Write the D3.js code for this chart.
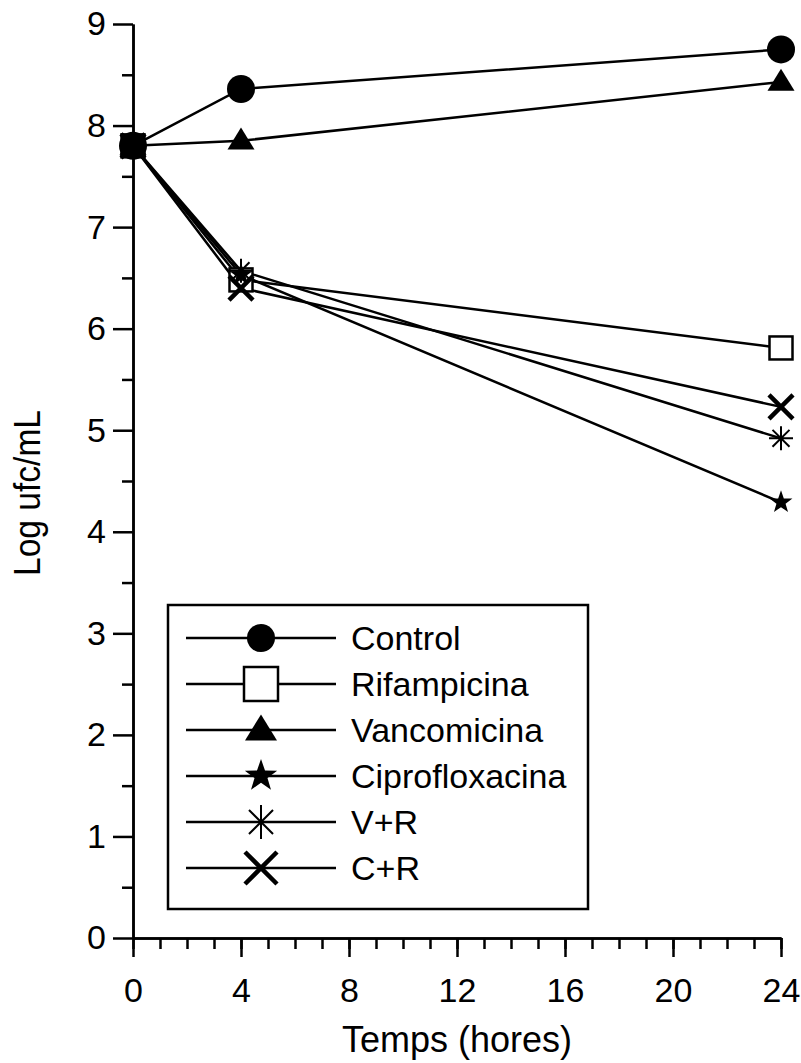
<!DOCTYPE html>
<html lang="ca">
<head>
<meta charset="UTF-8">
<title>Log ufc/mL vs temps</title>
<script src="https://d3js.org/d3.v7.min.js"></script>
<style>
  body { margin: 0; background: #fff; }
  text { font-family: "Liberation Sans", Arial, sans-serif; fill: #000; }
</style>
</head>
<body>
<div id="chart"></div>
<script>
// data
var hours = [0, 4, 24];
var seriesNames = ["Control", "Rifampicina", "Vancomicina", "Ciprofloxacina", "V+R", "C+R"];
var control        = [7.80, 8.36, 8.75];
var rifampicina    = [7.80, 6.48, 5.81];
var vancomicina    = [7.80, 7.85, 8.43];
var ciprofloxacina = [7.80, 6.53, 4.29];
var vr             = [7.80, 6.57, 4.92];
var cr             = [7.80, 6.40, 5.23];
var seriesValues = [control, rifampicina, vancomicina, ciprofloxacina, vr, cr];
var xMajorTicks = [0, 4, 8, 12, 16, 20, 24];
var yMajorTicks = [0, 1, 2, 3, 4, 5, 6, 7, 8, 9];

var W = 801, H = 1063;
var svg = d3.select("#chart").append("svg")
  .attr("width", W).attr("height", H);

var x = d3.scaleLinear().domain([0, 24]).range([133, 781]);
var y = d3.scaleLinear().domain([0, 9]).range([938, 24]);

// marker shapes, drawn centred on 0,0
function starPath(R) {
  var r = R * 0.4, pts = [];
  for (var i = 0; i < 10; i++) {
    var a = -Math.PI / 2 + i * Math.PI / 5;
    var rr = i % 2 === 0 ? R : r;
    pts.push([rr * Math.cos(a), rr * Math.sin(a)]);
  }
  return "M" + pts.map(p => p[0].toFixed(2) + "," + p[1].toFixed(2)).join("L") + "Z";
}
// sizes for plot markers and (bigger) legend markers
var plotSize = { sq: 11.5, triW: 13.5, triH: 22, star: 12, ast: 12, cross: 12 };
var legSize  = { sq: 17, triW: 16, triH: 26, star: 17, ast: 17, cross: 16 };

function drawMarker(g, i, s) {
  if (i === 0) {
    g.append("circle").attr("r", 14).attr("fill", "#000");
  } else if (i === 1) {
    g.append("rect").attr("x", -s.sq).attr("y", -s.sq).attr("width", 2 * s.sq).attr("height", 2 * s.sq)
      .attr("fill", "#fff").attr("stroke", "#000").attr("stroke-width", 2.5);
  } else if (i === 2) {
    var w = s.triW, h = s.triH;
    g.append("path").attr("d", "M0," + (-h * 0.6) + "L" + w + "," + (h * 0.4) + "L" + (-w) + "," + (h * 0.4) + "Z")
      .attr("fill", "#000");
  } else if (i === 3) {
    g.append("path").attr("d", starPath(s.star)).attr("fill", "#000");
  } else if (i === 4) {
    var r = s.ast, d = r * Math.SQRT1_2;
    g.append("path")
      .attr("d", "M0," + (-r) + "V" + r + "M" + (-r) + ",0H" + r +
        "M" + (-d) + "," + (-d) + "L" + d + "," + d + "M" + (-d) + "," + d + "L" + d + "," + (-d))
      .attr("stroke", "#000").attr("stroke-width", 2).attr("fill", "none");
  } else {
    var c = s.cross;
    g.append("path")
      .attr("d", "M" + (-c) + "," + (-c) + "L" + c + "," + c + "M" + (-c) + "," + c + "L" + c + "," + (-c))
      .attr("stroke", "#000").attr("stroke-width", 4.5).attr("fill", "none");
  }
}

// axes
var xAxisMinor = d3.axisBottom(x).tickValues(d3.range(0, 25)).tickSize(11).tickFormat("").tickSizeOuter(0);
var xAxisMajor = d3.axisBottom(x).tickValues(xMajorTicks).tickSize(19).tickPadding(21).tickSizeOuter(0);
var yAxisMinor = d3.axisLeft(y).tickValues(d3.range(0.5, 9, 1)).tickSize(11).tickFormat("").tickSizeOuter(0);
var yAxisMajor = d3.axisLeft(y).tickValues(yMajorTicks).tickSize(20).tickPadding(7).tickSizeOuter(0);

[xAxisMinor, xAxisMajor].forEach(function (ax) {
  var g = svg.append("g").attr("transform", "translate(0," + y(0) + ")").call(ax);
  g.selectAll("line, path").attr("stroke", "#000").attr("stroke-width", 2.5);
  g.selectAll("text").style("font-size", "34px").attr("font-family", null);
});
[yAxisMinor, yAxisMajor].forEach(function (ax) {
  var g = svg.append("g").attr("transform", "translate(" + x(0) + ",0)").call(ax);
  g.selectAll("line, path").attr("stroke", "#000").attr("stroke-width", 2.5);
  g.selectAll("text").style("font-size", "34px").attr("font-family", null);
});

// axis titles
svg.append("text")
  .attr("x", (x(0) + x(24)) / 2).attr("y", 1052)
  .attr("text-anchor", "middle").style("font-size", "36px")
  .text("Temps (hores)");
svg.append("text")
  .attr("transform", "translate(40,493) rotate(-90)")
  .attr("text-anchor", "middle").style("font-size", "36px")
  .attr("textLength", 166).attr("lengthAdjust", "spacingAndGlyphs")
  .text("Log ufc/mL");

// lines
var line = d3.line().x(d => x(d[0])).y(d => y(d[1]));
seriesValues.forEach(function (vals) {
  svg.append("path")
    .datum(hours.map((h, k) => [h, vals[k]]))
    .attr("d", line)
    .attr("fill", "none").attr("stroke", "#000").attr("stroke-width", 2.5);
});

// markers: hollow square first so the other symbols sit on top of it
[1, 0, 2, 3, 4, 5].forEach(function (i) {
  hours.forEach(function (h, k) {
    var g = svg.append("g").attr("transform", "translate(" + x(h) + "," + y(seriesValues[i][k]) + ")");
    drawMarker(g, i, plotSize);
  });
});

// legend
var legend = svg.append("g");
legend.append("rect")
  .attr("x", 168).attr("y", 605).attr("width", 420).attr("height", 304)
  .attr("fill", "#fff").attr("stroke", "#000").attr("stroke-width", 2.5);
seriesNames.forEach(function (name, i) {
  var cy = 638 + i * 46;
  legend.append("line").attr("x1", 186).attr("x2", 336).attr("y1", cy).attr("y2", cy)
    .attr("stroke", "#000").attr("stroke-width", 2.5);
  var g = legend.append("g").attr("transform", "translate(261," + cy + ")");
  drawMarker(g, i, legSize);
  legend.append("text").attr("x", 351).attr("y", cy).attr("dy", "0.36em")
    .style("font-size", "34px").text(name);
});
</script>
</body>
</html>
